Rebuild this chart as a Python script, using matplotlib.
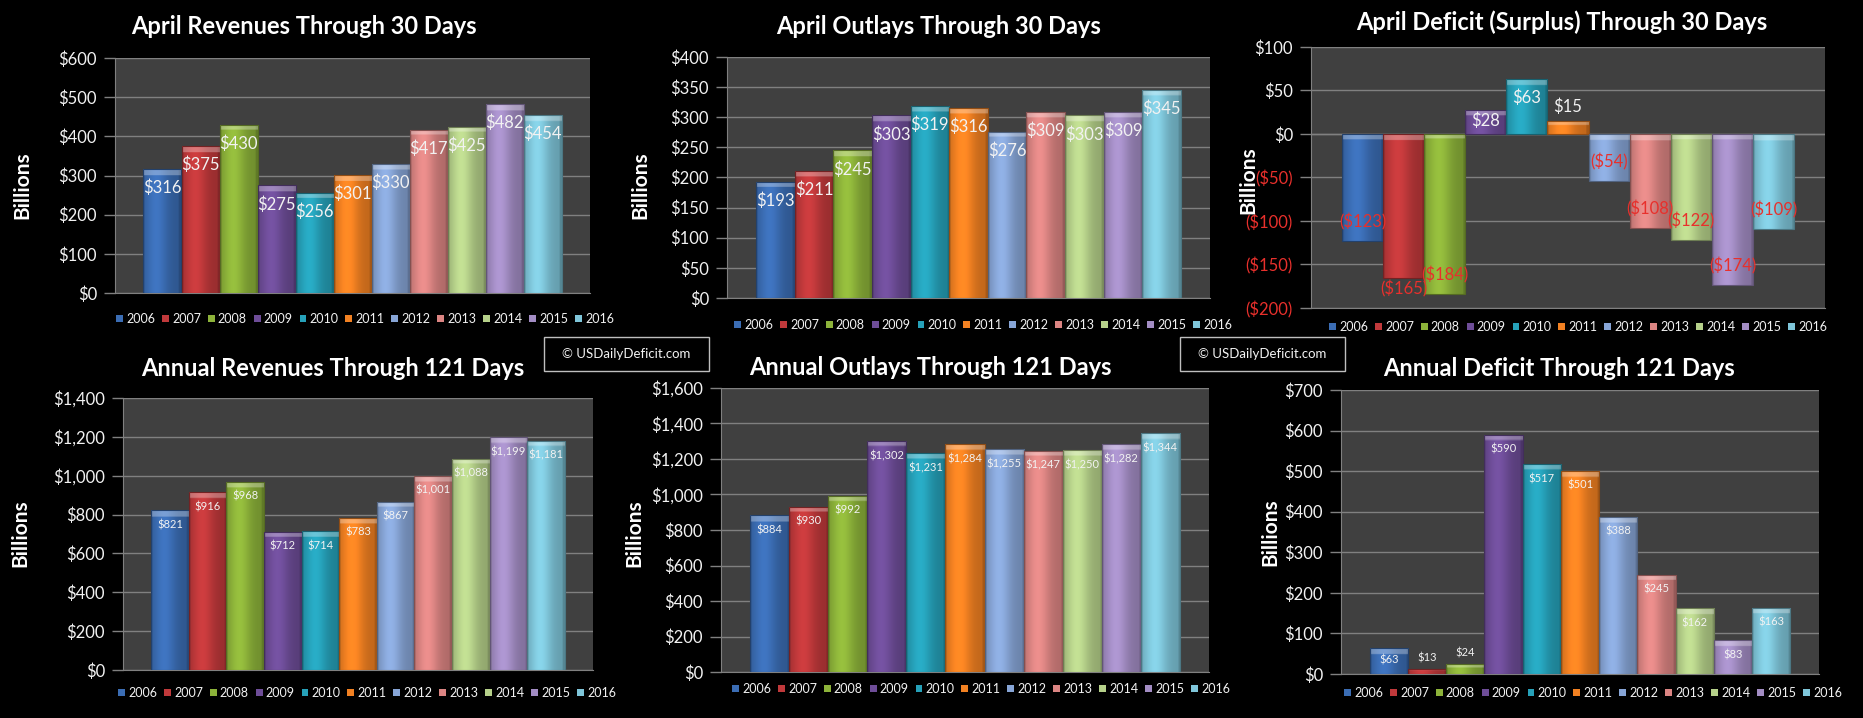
import matplotlib
matplotlib.use("Agg")
import matplotlib.pyplot as plt
from matplotlib.patches import Patch, Rectangle
import matplotlib.colors as mcolors
import numpy as np

plt.rcParams['font.family'] = ['Lato', 'DejaVu Sans']

# data
years = ['2006', '2007', '2008', '2009', '2010', '2011', '2012', '2013', '2014', '2015', '2016']
april_rev = [316, 375, 430, 275, 256, 301, 330, 417, 425, 482, 454]
april_out = [193, 211, 245, 303, 319, 316, 276, 309, 303, 309, 345]
april_def = [-123, -165, -184, 28, 63, 15, -54, -108, -122, -174, -109]
annual_rev = [821, 916, 968, 712, 714, 783, 867, 1001, 1088, 1199, 1181]
annual_out = [884, 930, 992, 1302, 1231, 1284, 1255, 1247, 1250, 1282, 1344]
annual_def = [63, 13, 24, 590, 517, 501, 388, 245, 162, 83, 163]

colors = ['#3b6db4', '#c0393b', '#8db33a', '#6e4d98', '#26a1b9', '#f28122',
          '#87a5d6', '#dc8583', '#b6d18a', '#a38dc4', '#7fc6da']

W, H = 1863, 718
RED = '#e8302c'
WHITE = '#f2f2f2'
GRID = '#808080'
PLOTBG = '#404040'


def money(v):
    if v < 0:
        return '(${:,.0f})'.format(-v)
    return '${:,.0f}'.format(v)


def shade_bar(ax, rect, color):
    # fake excel bevel: horizontal gradient + lighter cap at top
    x0, y0 = rect.get_x(), rect.get_y()
    w, h = rect.get_width(), rect.get_height()
    lo, hi = min(y0, y0 + h), max(y0, y0 + h)
    p0 = ax.transData.transform((x0, lo))
    p1 = ax.transData.transform((x0, hi))
    bar_px = abs(p1[1] - p0[1])
    rgb = np.array(mcolors.to_rgb(color))
    t = np.linspace(0, 1, 64)
    f = 0.8 + 0.28 * np.exp(-((t - 0.35) / 0.3) ** 2)
    f[-4:] *= 0.85
    f[:3] *= 0.9
    rows = 120
    img = np.clip(rgb[None, None, :] * f[None, :, None], 0, 1).repeat(rows, axis=0)
    if bar_px > 0:
        cap = int(round(rows * min(6.0 / bar_px, 0.35)))
        if cap > 0:
            img[:cap] = img[:cap] * 0.7 + 0.3
    im = ax.imshow(img, extent=(x0, x0 + w, lo, hi), origin='upper',
                   aspect='auto', interpolation='bilinear', zorder=3)
    im.set_clip_path(rect)


def make_chart(rect_px, values, ylim, step, title, title_xy, bill_xy, leg_xy,
               lab_size, lab_off, outside=(), red_neg=False):
    x0, y0, x1, y1 = rect_px
    ax = fig.add_axes([x0 / W, 1 - y1 / H, (x1 - x0) / W, (y1 - y0) / H])
    ax.set_facecolor(PLOTBG)
    ax.set_xlim(-0.5, 0.5)
    ax.set_ylim(*ylim)
    ticks = np.arange(ylim[0], ylim[1] + step / 2, step)
    ax.set_yticks(ticks)
    ax.set_yticklabels([money(t) for t in ticks])
    for lab, t in zip(ax.get_yticklabels(), ticks):
        lab.set_color(RED if (red_neg and t < 0) else WHITE)
    ax.tick_params(axis='y', length=8, width=1, color=GRID, pad=5, labelsize=12)
    ax.set_xticks([])
    ax.grid(axis='y', color=GRID, linewidth=1, zorder=0)
    ax.set_axisbelow(True)
    for s in ['top', 'right']:
        ax.spines[s].set_visible(False)
    ax.spines['left'].set_color(GRID)
    ax.spines['bottom'].set_color(GRID)

    n = len(values)
    bw = 1.0 / (n + 1.5)
    xs = -0.5 + 0.75 * bw + bw * (np.arange(n) + 0.5)
    bars = ax.bar(xs, values, width=bw, color=colors, edgecolor='none', zorder=2)
    for b, c in zip(bars, colors):
        shade_bar(ax, b, c)
        edge = Rectangle((b.get_x(), b.get_y()), b.get_width(), b.get_height(),
                         fill=False, edgecolor=np.array(mcolors.to_rgb(c)) * 0.6,
                         linewidth=0.8, zorder=4)
        ax.add_patch(edge)
    if ylim[0] < 0:
        ax.axhline(0, color=GRID, linewidth=1, zorder=1)

    # data labels, inside end unless the bar is too short
    px_per_unit = (y1 - y0) / (ylim[1] - ylim[0])
    for i, (x, v) in enumerate(zip(xs, values)):
        bar_px = abs(v) * px_per_unit
        sgn = 1 if v >= 0 else -1
        if i in outside:
            off = sgn * lab_off * 0.6
        elif bar_px < lab_off * 1.1:
            off = sgn * lab_off * 0.75
        else:
            off = -sgn * min(lab_off, bar_px / 2.2)
        ax.annotate(money(v), (x, v), xytext=(0, off * 0.72), textcoords='offset points',
                    ha='center', va='center', fontsize=lab_size,
                    color=RED if v < 0 else WHITE, zorder=6)

    fig.text(title_xy[0] / W, 1 - title_xy[1] / H, title, color='white',
             fontsize=17, fontweight='bold', ha='center', va='center')
    fig.text(bill_xy[0] / W, 1 - bill_xy[1] / H, 'Billions', color='white',
             fontsize=15, fontweight='bold', rotation=90, ha='center', va='center')
    handles = [Patch(facecolor=c, edgecolor='none') for c in colors]
    leg = ax.legend(handles, years, loc='center', bbox_to_anchor=(leg_xy[0] / W, 1 - leg_xy[1] / H),
                    bbox_transform=fig.transFigure, ncol=n, frameon=False, fontsize=9,
                    handlelength=0.55, handleheight=0.55, handletextpad=0.25,
                    columnspacing=0.55, borderpad=0)
    for tx in leg.get_texts():
        tx.set_color(WHITE)
    return ax


fig = plt.figure(figsize=(W / 100, H / 100), dpi=100, facecolor='black')

make_chart((115, 58, 590, 293), april_rev, (0, 600), 100,
           'April Revenues Through 30 Days', (304, 27), (22, 185), (365, 319), 12, 19)
make_chart((727, 57, 1210, 298), april_out, (0, 400), 50,
           'April Outlays Through 30 Days', (939, 27), (640, 185), (983, 325), 12, 19)
make_chart((1311, 47, 1825, 308), april_def, (-200, 100), 50,
           'April Deficit (Surplus) Through 30 Days', (1562, 22), (1248, 180), (1578, 327),
           12, 19, outside=(1,), red_neg=True)
make_chart((123, 398, 593, 670), annual_rev, (0, 1400), 200,
           'Annual Revenues Through 121 Days', (333, 369), (20, 533), (367, 693), 8, 14.5)
make_chart((721, 388, 1209, 672), annual_out, (0, 1600), 200,
           'Annual Outlays Through 121 Days', (930, 367), (634, 533), (981, 689), 8, 14.5)
make_chart((1341, 390, 1819, 674), annual_def, (0, 700), 100,
           'Annual Deficit Through 121 Days', (1559, 369), (1270, 532), (1593, 693), 8, 14.5)

# watermark boxes
for bx in (544, 1180):
    fig.patches.append(Rectangle((bx / W, 1 - 371 / H), 165 / W, 34 / H, transform=fig.transFigure,
                                 facecolor='black', edgecolor='#bfbfbf', linewidth=1))
    fig.text((bx + 82.5) / W, 1 - 354 / H, '\u00a9 USDailyDeficit.com', color=WHITE,
             fontsize=9.5, ha='center', va='center')

fig.savefig('out.png', dpi=100, facecolor='black')
